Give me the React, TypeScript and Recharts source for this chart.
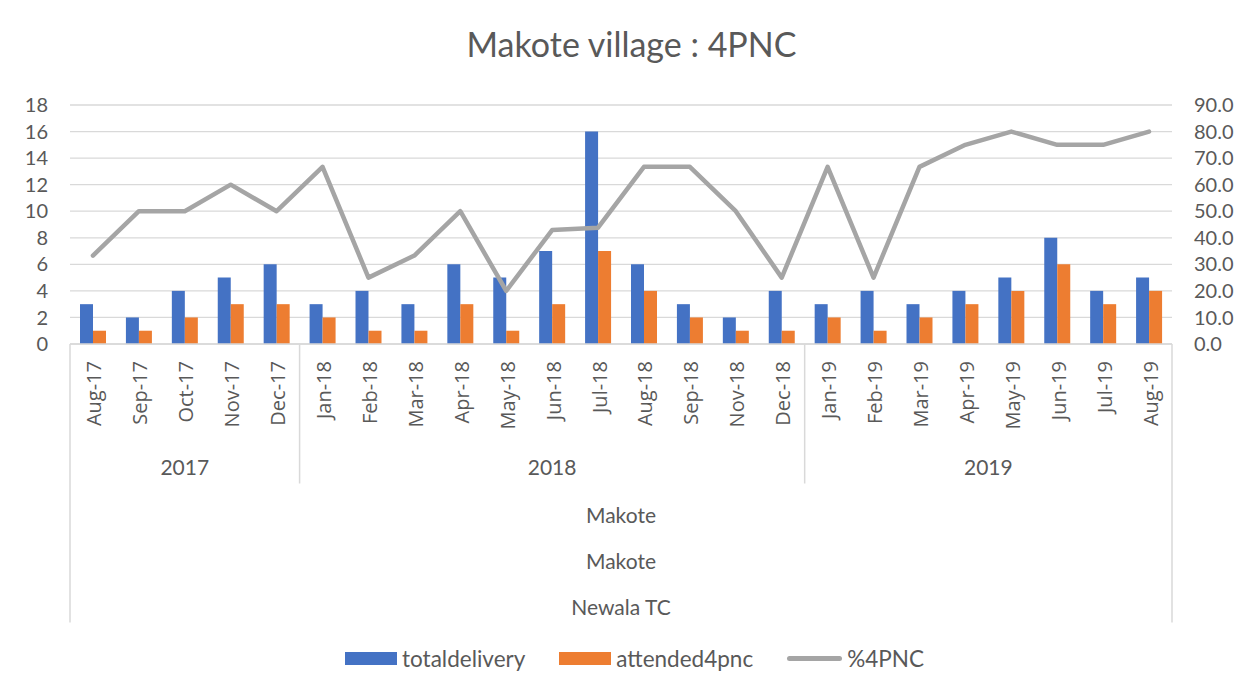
import React from 'react';
import { ComposedChart, Bar, Line, XAxis, YAxis, CartesianGrid, Legend } from 'recharts';

const months = ['Aug-17','Sep-17','Oct-17','Nov-17','Dec-17','Jan-18','Feb-18','Mar-18','Apr-18','May-18','Jun-18','Jul-18','Aug-18','Sep-18','Nov-18','Dec-18','Jan-19','Feb-19','Mar-19','Apr-19','May-19','Jun-19','Jul-19','Aug-19'];
const totalDelivery = [3,2,4,5,6,3,4,3,6,5,7,16,6,3,2,4,3,4,3,4,5,8,4,5];
const attended4pnc = [1,1,2,3,3,2,1,1,3,1,3,7,4,2,1,1,2,1,2,3,4,6,3,4];
const pct4pnc = [33.3,50,50,60,50,66.7,25,33.3,50,20,42.9,43.8,66.7,66.7,50,25,66.7,25,66.7,75,80,75,75,80];
const leftTicks = [0,2,4,6,8,10,12,14,16,18];
const rightTicks = [0,10,20,30,40,50,60,70,80,90];
const outerLabels = ['Makote','Makote','Newala TC'];
const seriesNames = ['totaldelivery','attended4pnc','%4PNC'];
const title = 'Makote village : 4PNC';

const BLUE = '#4472c4';
const ORANGE = '#ed7d31';
const GRAY = '#a5a5a5';
const TEXT = '#595959';
const GRID = '#d9d9d9';

const W = 1243;
const H = 694;
const PLOT_LEFT = 70;
const PLOT_RIGHT = 1172;

const data = months.map((m, i) => ({
  month: m,
  totaldelivery: totalDelivery[i],
  attended4pnc: attended4pnc[i],
  pct: pct4pnc[i],
}));

const yearOf = (m: string) => '20' + m.split('-')[1];

function MonthTick(props: any) {
  const { x, y, payload, index } = props;
  const n = months.length;
  const half = payload && typeof payload.offset === 'number' && payload.offset > 0
    ? payload.offset
    : (PLOT_RIGHT - PLOT_LEFT) / n / 2;
  const m = months[index];
  const yr = yearOf(m);
  const first = index === 0 || yearOf(months[index - 1]) !== yr;
  let count = 0;
  for (let j = index; j < n && yearOf(months[j]) === yr; j++) count++;
  const els: any[] = [];
  els.push(
    <text key="m" x={x + 1} y={y + 17} transform={`rotate(-90, ${x + 1}, ${y + 17})`} textAnchor="end" dominantBaseline="central"
      fontFamily="'Open Sans', sans-serif" fontSize={20} fill={TEXT}>{m}</text>
  );
  if (first) {
    const lx = x - half;
    els.push(<line key="sep" x1={lx} x2={lx} y1={y} y2={index === 0 ? y + 278.5 : y + 139.5} stroke={GRID} strokeWidth={1.5} />);
    els.push(
      <text key="yr" x={lx + count * half} y={y + 122.5} textAnchor="middle" dominantBaseline="central"
        fontFamily="Lato, sans-serif" fontSize={21} fill={TEXT}>{yr}</text>
    );
  }
  if (index === n - 1) {
    els.push(<line key="end" x1={x + half} x2={x + half} y1={y} y2={y + 278.5} stroke={GRID} strokeWidth={1.5} />);
  }
  if (index === 0) {
    const cx = x - half + n * half;
    outerLabels.forEach((lab, k) => {
      els.push(
        <text key={'o' + k} x={cx} y={y + 170.5 + k * 46} textAnchor="middle" dominantBaseline="central"
          fontFamily="Lato, sans-serif" fontSize={21} fill={TEXT}>{lab}</text>
      );
    });
  }
  return <g>{els}</g>;
}

function LegendContent() {
  const colors = [BLUE, ORANGE, GRAY];
  return (
    <div style={{ height: 50, width: W }}>
      <div style={{ height: 28, display: 'flex', justifyContent: 'center', alignItems: 'center', paddingLeft: 26,
        fontFamily: 'Lato, sans-serif', fontSize: 22.5, color: TEXT }}>
        {seriesNames.map((name, i) => (
          <div key={name} style={{ display: 'flex', alignItems: 'center', marginRight: i < 2 ? 34 : 0 }}>
            {i < 2 ? (
              <div style={{ width: 52, height: 13, background: colors[i], marginRight: 5 }} />
            ) : (
              <div style={{ width: 55, height: 5, borderRadius: 3, background: colors[i], marginRight: 5 }} />
            )}
            <span>{name}</span>
          </div>
        ))}
      </div>
    </div>
  );
}

export default function App() {
  return (
    <div style={{ position: 'relative', width: W, height: H, margin: -8, overflow: 'hidden', background: '#fff' }}>
      <div style={{ position: 'absolute', left: 5, top: 6, width: W, height: H, border: `1.5px solid ${GRID}`, boxSizing: 'border-box' }} />
      <div style={{ position: 'absolute', top: 27, left: 0, width: W, paddingLeft: 20, boxSizing: 'border-box', textAlign: 'center',
        fontFamily: 'Lato, sans-serif', fontSize: 34, lineHeight: '34px', color: TEXT }}>{title}</div>
      <div style={{ position: 'absolute', left: 0, top: 0 }}>
        <ComposedChart width={W} height={H} data={data} margin={{ top: 105, right: 0, bottom: 0, left: 0 }} barGap={0}>
          <CartesianGrid vertical={false} stroke={GRID} strokeWidth={1.3} yAxisId="left" />
          <XAxis dataKey="month" interval={0} height={300} tickSize={0} tickMargin={0} tickLine={false}
            axisLine={{ stroke: GRID, strokeWidth: 1.5 }} tick={<MonthTick />} />
          <YAxis yAxisId="left" orientation="left" width={70} domain={[0, 18]} ticks={leftTicks} interval={0} axisLine={false} tickLine={false}
            tickSize={0} tickMargin={22} tick={{ fontFamily: 'Lato, sans-serif', fontSize: 20, fill: TEXT }} />
          <YAxis yAxisId="right" orientation="right" width={71} domain={[0, 90]} ticks={rightTicks} interval={0} axisLine={false} tickLine={false}
            tickSize={0} tickMargin={22} tickFormatter={(v: number) => v.toFixed(1)}
            tick={{ fontFamily: 'Lato, sans-serif', fontSize: 20, fill: TEXT }} />
          <Legend verticalAlign="bottom" height={50} content={<LegendContent />} />
          <Bar yAxisId="left" dataKey="totaldelivery" name={seriesNames[0]} fill={BLUE} barSize={13} isAnimationActive={false} />
          <Bar yAxisId="left" dataKey="attended4pnc" name={seriesNames[1]} fill={ORANGE} barSize={13} isAnimationActive={false} />
          <Line yAxisId="right" dataKey="pct" name={seriesNames[2]} stroke={GRAY} strokeWidth={4.5} dot={false}
            strokeLinejoin="round" strokeLinecap="round" isAnimationActive={false} />
        </ComposedChart>
      </div>
    </div>
  );
}
